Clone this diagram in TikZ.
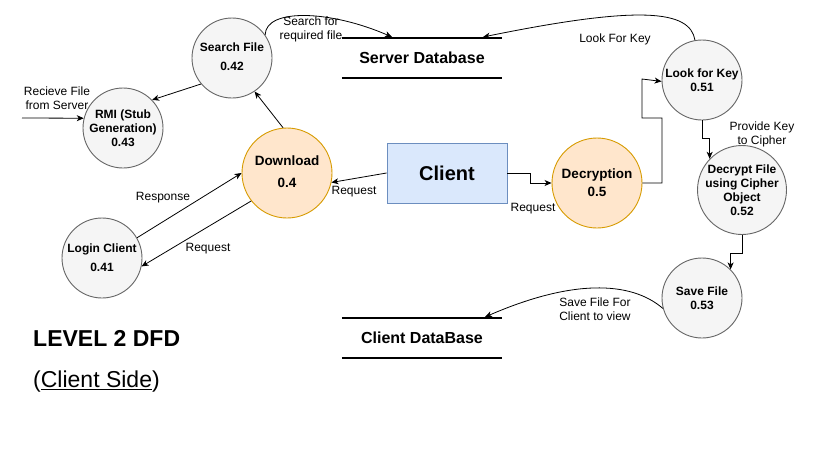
\documentclass[tikz,border=0pt]{standalone}
\usepackage{fontspec}
\setmainfont{Liberation Sans}
\usetikzlibrary{arrows.meta}
\definecolor{pfill}{HTML}{F5F5F5}
\definecolor{pline}{HTML}{666666}
\definecolor{ofill}{HTML}{FFE6CC}
\definecolor{oline}{HTML}{D79B00}
\definecolor{bfill}{HTML}{DAE8FC}
\definecolor{bline}{HTML}{6C8EBF}
\tikzset{
  proc/.style={circle, draw=pline, fill=pfill, line width=0.9pt, minimum size=80pt, inner sep=0pt, align=center,
    font=\bfseries\fontsize{12}{14}\selectfont},
  act/.style={circle, draw=oline, fill=ofill, line width=0.9pt, minimum size=90pt, inner sep=0pt, align=center,
    font=\bfseries\fontsize{13.5}{18}\selectfont},
  store/.style={minimum width=160pt, minimum height=40pt, inner sep=0pt, font=\bfseries\fontsize{16}{18}\selectfont},
  lbl/.style={inner sep=0pt, align=center, font=\fontsize{12}{14}\selectfont},
  flow/.style={-{Stealth[length=7pt,width=6pt,inset=2pt]}, line width=0.8pt},
  storeline/.style={line width=1.6pt}
}
\begin{document}
\begin{tikzpicture}[x=1pt,y=-1pt]
\useasboundingbox[fill=white] (0,0) rectangle (815,451);

% processes
\node[proc] (search) at (232,58) {\\[-8pt]Search File\\[5pt]0.42};
\node[proc] (rmi) at (123,128) {RMI (Stub\\Generation)\\0.43};
\node[act] (dl) at (287,173) {\\[-10pt]Download\\[4pt]0.4};
\node[proc] (login) at (102,258) {Login Client\\[5pt]0.41};
\node[rectangle, draw=bline, fill=bfill, line width=0.9pt, minimum width=120pt, minimum height=60pt,
  font=\bfseries\fontsize{20}{24}\selectfont] (client) at (447,173) {Client};
\node[act] (decr) at (597,183) {Decryption\\0.5};
\node[proc] (look) at (702,80) {Look for Key\\0.51};
\node[proc] (dec) at (742,190) {Decrypt File\\using Cipher\\Object\\0.52};
\node[proc] (save) at (702,298) {Save File\\0.53};

% data stores
\node[store] (sdb) at (422,58) {Server Database};
\draw[storeline] (sdb.north west) -- (sdb.north east);
\draw[storeline] (sdb.south west) -- (sdb.south east);
\node[store] (cdb) at (422,338) {Client DataBase};
\draw[storeline] (cdb.north west) -- (cdb.north east);
\draw[storeline] (cdb.south west) -- (cdb.south east);

% titles
\node[anchor=west, inner sep=0pt, font=\bfseries\fontsize{23}{26}\selectfont] (title) at (33,338) {LEVEL 2 DFD};
\node[anchor=west, inner sep=0pt, font=\fontsize{23}{26}\selectfont] (sub) at (33,382) {(\underline{Client Side})};

% flows
\coordinate (sdbin) at (392,37);
\coordinate (sdbin2) at (483,37);
\coordinate (cdbin) at (485,317);
\coordinate (rstart) at (22,118);

\draw[flow] (search.35) .. controls (266,8) and (330,10) .. (sdbin);
\node[lbl] (l1) at (311,29) {Search for\\required file};

\draw[flow] (look.100) .. controls (690,10) and (640,5) .. (sdbin2);
\node[lbl] (l2) at (615,39) {Look For Key};

\draw[flow] (search.220) -- (rmi.44);
\draw[flow] (dl.95) -- (search.-56);

\draw[flow] (rstart) -- (rmi.166);
\node[lbl] (l3) at (57,98) {Recieve File\\from Server};

\draw[flow] (client.west) -- (dl.-12);
\node[lbl] (l4) at (354,192) {Request};

\draw[flow] (login.30) -- (dl.west);
\node[lbl] (l5) at (163,198) {Response};

\draw[flow] (dl.218) -- (login.-12);
\node[lbl] (l6) at (208,249) {Request};

\draw[flow] (client.east) -- (530,173) -- (530,183) -- (decr.west);
\node[lbl] (l7) at (533,209) {Request};

\draw[flow] (decr.east) -- (662,183) -- (662,118) -- (642,118) -- (642,79) -- (look.182);

\draw[flow] (look.south) -- ++(0,18) -| (dec.136);
\node[lbl] (l8) at (762,134) {Provide Key\\to Cipher};

\draw[flow] (dec.south) -- ++(0,18) -| (save.45);

\draw[flow] (save.195) .. controls (630,280) and (570,280) .. (cdbin);
\node[lbl] (l9) at (595,309) {Save File For\\Client to view};
\end{tikzpicture}
\end{document}
